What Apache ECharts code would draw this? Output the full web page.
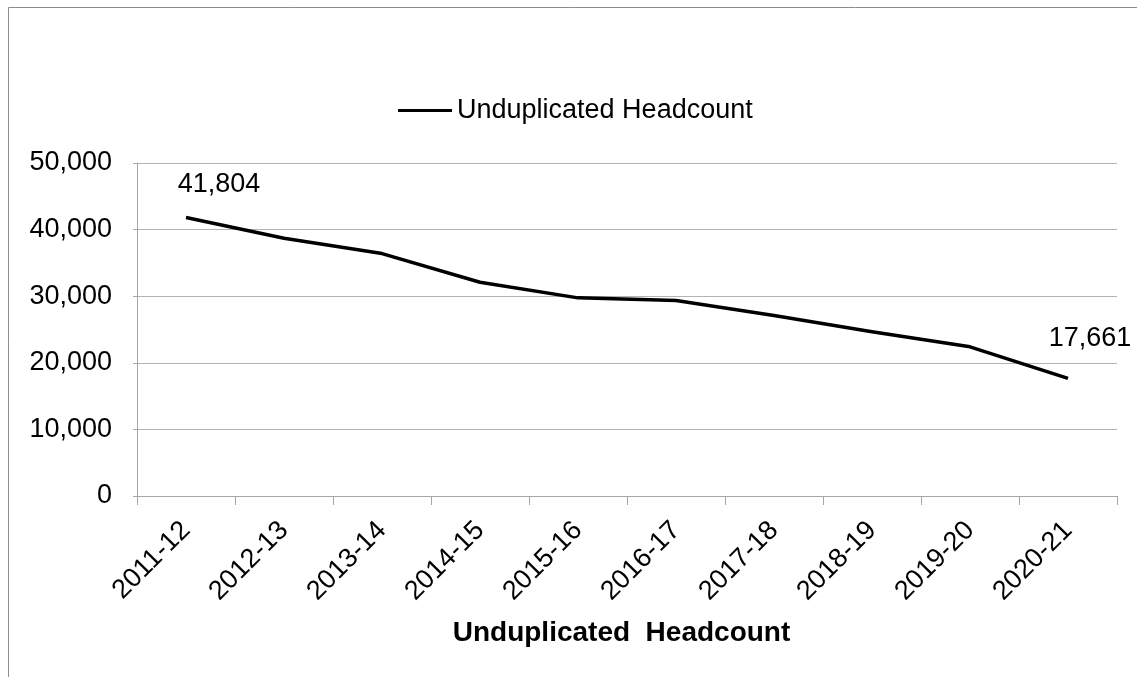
<!DOCTYPE html>
<html>
<head>
<meta charset="utf-8">
<style>
  html, body { margin: 0; padding: 0; background: #ffffff; }
  #chart { width: 1137px; height: 677px; }
</style>
<script src="https://cdn.jsdelivr.net/npm/echarts@6/dist/echarts.min.js"></script>
</head>
<body>
<div id="chart"></div>
<script>
// Academic years on the category axis
const years = ['2011-12', '2012-13', '2013-14', '2014-15', '2015-16',
               '2016-17', '2017-18', '2018-19', '2019-20', '2020-21'];

// Unduplicated headcount per year
const headcount = [41804, 38700, 36400, 32100, 29750, 29350, 27100, 24650, 22400, 17661];

// Value-axis ticks
const yMin = 0, yMax = 50000, yStep = 10000;

const seriesName = 'Unduplicated Headcount';
const axisTitle = 'Unduplicated  Headcount';

const FONT = '"Liberation Sans", Arial, sans-serif';
const fmt = v => Number(v).toLocaleString('en-US');

// Only the first and last points carry a value label
const labelOffsets = { 0: [33, -33], 9: [22, -40] };
const lineData = headcount.map((v, i) => {
  if (labelOffsets[i]) {
    return {
      value: v,
      label: {
        show: true, position: 'inside', offset: labelOffsets[i],
        formatter: p => fmt(p.value),
        color: '#000', fontSize: 27, fontFamily: FONT
      }
    };
  }
  return v;
});

const chart = echarts.init(document.getElementById('chart'), null, { renderer: 'canvas' });

chart.setOption({
  animation: false,
  backgroundColor: '#ffffff',
  textStyle: { fontFamily: FONT },
  graphic: [{
    type: 'rect',
    shape: { x: 8.5, y: 7.5, width: 1200, height: 700 },
    style: { fill: 'none', stroke: '#8c8c8c', lineWidth: 1 },
    silent: true
  }],
  legend: {
    left: 398, top: 97, padding: 0,
    itemWidth: 54, itemHeight: 3, itemGap: 10,
    icon: 'rect',
    textStyle: { color: '#000', fontSize: 27, fontFamily: FONT },
    data: [{ name: seriesName, itemStyle: { color: '#000', opacity: 1 } }]
  },
  grid: { left: 137, right: 20, top: 163, bottom: 181, containLabel: false },
  xAxis: {
    type: 'category',
    data: years,
    boundaryGap: true,
    name: axisTitle,
    nameLocation: 'middle',
    nameGap: 123,
    nameTextStyle: { color: '#000', fontSize: 28, fontWeight: 'bold', fontFamily: FONT, padding: [0, 11, 0, 0] },
    axisLine: { lineStyle: { color: '#a6a6a6', width: 1 } },
    axisTick: { show: true, length: 9, lineStyle: { color: '#a6a6a6' } },
    axisLabel: {
      rotate: 45, margin: 30, color: '#000', fontSize: 27, fontFamily: FONT,
      interval: 0
    },
    splitLine: { show: false }
  },
  yAxis: {
    type: 'value',
    min: yMin, max: yMax, interval: yStep,
    axisLine: { show: true, lineStyle: { color: '#a6a6a6', width: 1 } },
    axisTick: { show: true, length: 4, lineStyle: { color: '#a6a6a6' } },
    axisLabel: { margin: 25, color: '#000', fontSize: 27, fontFamily: FONT, formatter: v => fmt(v) },
    splitLine: { show: true, lineStyle: { color: '#b3b3b3', width: 1 } }
  },
  series: [{
    name: seriesName,
    type: 'line',
    data: lineData,
    symbol: 'circle',
    symbolSize: 1,
    showSymbol: true,
    lineStyle: { color: '#000', width: 3.5, join: 'round', cap: 'butt' },
    itemStyle: { color: 'rgba(0,0,0,0)', borderWidth: 0 }
  }]
});
</script>
</body>
</html>
